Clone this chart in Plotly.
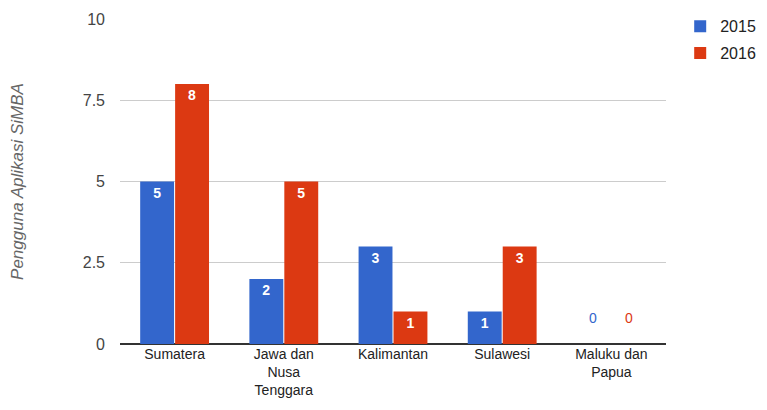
import plotly.graph_objects as go

categories = ["Sumatera", "Jawa dan<br>Nusa<br>Tenggara", "Kalimantan", "Sulawesi", "Maluku dan<br>Papua"]
values_2015 = [5, 2, 3, 1, 0]
values_2016 = [8, 5, 1, 3, 0]
series_names = ["2015", "2016"]
colors = ["#3366cc", "#dc3912"]
y_ticks = [0, 2.5, 5, 7.5, 10]
y_tick_labels = ["0", "2.5", "5", "7.5", "10"]

fig = go.Figure()
annotations = []
for name, vals, col in zip(series_names, [values_2015, values_2016], colors):
    fig.add_trace(go.Bar(
        name=name, x=categories, y=vals, marker_color=col, marker_line_width=0,
        text=["<b>%s</b>" % v if v != 0 else "" for v in vals],
        textposition="inside", insidetextanchor="end", textangle=0,
        textfont=dict(color="white", size=14, family="Arial, Liberation Sans"),
        offsetgroup=name, legendgroup=name,
    ))

# zero-value labels above the baseline
n = len(categories)
for si, (vals, col) in enumerate(zip([values_2015, values_2016], colors)):
    for ci, v in enumerate(vals):
        if v == 0:
            annotations.append(dict(
                x=ci + (-0.165 if si == 0 else 0.165), y=0, xref="x", yref="y",
                text=str(v), showarrow=False, yshift=26,
                font=dict(color=col, size=14, family="Arial, Liberation Sans"),
            ))

fig.update_layout(
    width=767, height=410,
    margin=dict(l=120, r=101, t=19, b=66, autoexpand=False),
    paper_bgcolor="white", plot_bgcolor="white",
    barmode="group", bargap=0.36, bargroupgap=0.03,
    font=dict(family="Arial, Liberation Sans", color="#444"),
    legend=dict(x=1.026, y=1.03, xanchor="left", yanchor="top",
                font=dict(size=16, color="#222"), tracegroupgap=3,
                traceorder="grouped"),
    annotations=annotations,
    uniformtext=dict(mode="show", minsize=8),
)
fig.update_xaxes(
    type="category", tickfont=dict(size=14, color="#222"),
    showgrid=False, showline=False, ticks="", range=[-0.5, n - 0.5],
    automargin=False,
)
fig.update_yaxes(
    range=[0, 10], tickvals=y_ticks, ticktext=y_tick_labels,
    tickfont=dict(size=16, color="#444"), ticklabelstandoff=14,
    showgrid=True, gridcolor="#cccccc", gridwidth=1,
    zeroline=True, zerolinecolor="#333333", zerolinewidth=1.5,
    automargin=False,
    title=dict(text="<i>Pengguna Aplikasi SiMBA</i>", font=dict(size=17, color="#666"), standoff=54),
)

fig.write_html("out.html", config={"displayModeBar": False},
               post_script="document.body.style.margin='0';")
